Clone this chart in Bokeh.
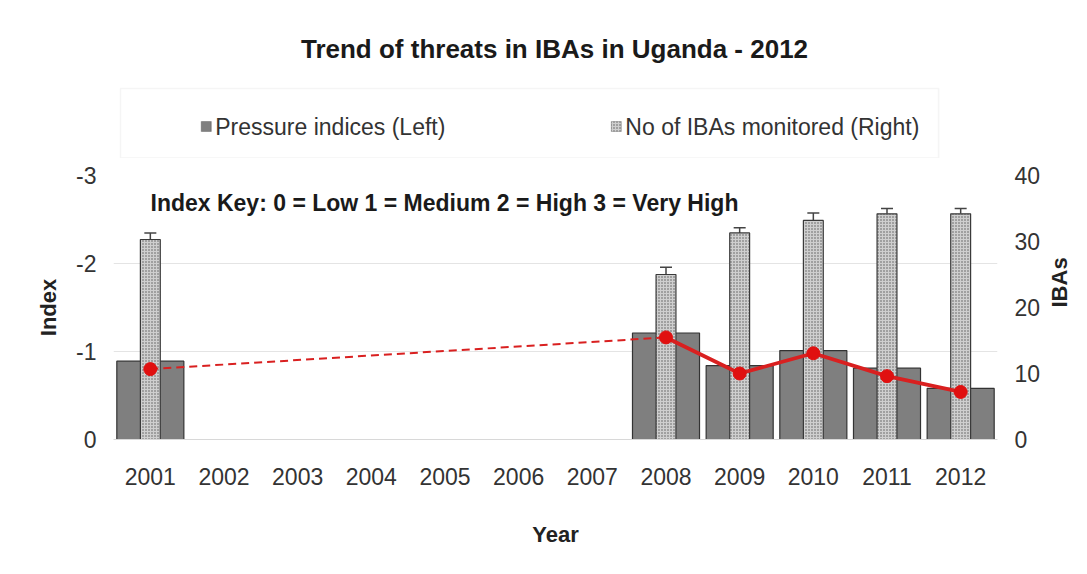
import math
from bokeh.plotting import figure
from bokeh.layouts import column
from bokeh.models import (FactorRange, Range1d, LinearAxis, FixedTicker, Whisker, TeeHead,
                          ColumnDataSource, Label, BoxAnnotation, PrintfTickFormatter)
from bokeh.embed import file_html
from bokeh.resources import INLINE

# ---- data ----
years = ["2001", "2002", "2003", "2004", "2005", "2006", "2007", "2008", "2009", "2010", "2011", "2012"]
data_years = ["2001", "2008", "2009", "2010", "2011", "2012"]
pressure = [-0.89, -1.21, -0.84, -1.01, -0.81, -0.58]
trend = [-0.80, -1.16, -0.75, -0.98, -0.72, -0.54]
ibas = [30.3, 25.0, 31.3, 33.2, 34.2, 34.2]
ibas_err = [1.0, 1.1, 0.8, 1.1, 0.8, 0.8]
left_ticks = [-3, -2, -1, 0]
right_ticks = [0, 10, 20, 30, 40]
legend_labels = ["Pressure indices (Left)", "No of IBAs monitored (Right)"]

FONT = "Liberation Sans"
PRESS_STYLE = dict(fill_color="#7f7f7f", line_color="#333333", line_width=1.2)
IBA_STYLE = dict(fill_color="#cfcfcf", line_color="#3a3a3a", line_width=1.2,
                 hatch_pattern="dot", hatch_color="#5a5a5a", hatch_scale=3, hatch_weight=1.4)

HEAD_H = 158

# ---------------- header: title + legend ----------------
head = figure(width=1087, height=HEAD_H, x_range=Range1d(113, 999), y_range=Range1d(HEAD_H, 0),
              x_axis_type=None, y_axis_type=None, output_backend="svg", toolbar_location=None,
              min_border_left=113, min_border_right=88, min_border_top=0, min_border_bottom=0)
head.grid.visible = False
head.outline_line_color = None
head.background_fill_color = "white"
head.border_fill_color = "white"

head.add_layout(Label(x=555, y=48, text="Trend of threats in IBAs in Uganda - 2012",
                      text_align="center", text_baseline="middle", text_font=FONT,
                      text_font_size="26px", text_font_style="bold", text_color="#1a1a1a"))
# legend frame
head.add_layout(BoxAnnotation(left=120, right=940, top=88, bottom=HEAD_H - 0.5,
                              fill_color="white", fill_alpha=1.0,
                              line_color="#dedede", line_width=1.5))
# legend swatches and labels
head.add_layout(BoxAnnotation(left=201, right=211, top=121, bottom=131, fill_alpha=1.0,
                              **PRESS_STYLE))
head.add_layout(BoxAnnotation(left=612, right=622, top=121, bottom=131, fill_alpha=1.0,
                              **IBA_STYLE))
for lx, lab in zip([215, 626], legend_labels):
    head.add_layout(Label(x=lx, y=126, text=lab, text_baseline="middle", text_font=FONT,
                          text_font_size="23px", text_color="#333333"))

# ---------------- main chart ----------------
p = figure(x_range=FactorRange(*years), y_range=Range1d(0, -3),
           width=1087, height=572 - HEAD_H, output_backend="svg", toolbar_location=None,
           min_border_left=113, min_border_right=88, min_border_top=175 - HEAD_H,
           min_border_bottom=133)
p.extra_y_ranges = {"ibas": Range1d(0, 40)}

src = ColumnDataSource(dict(x=data_years, pressure=pressure, trend=trend, ibas=ibas,
                            hi=[v + e for v, e in zip(ibas, ibas_err)]))

p.vbar(x="x", top="pressure", bottom=0, width=0.91, source=src, **PRESS_STYLE)
p.vbar(x="x", top="ibas", bottom=0, width=0.27, source=src, y_range_name="ibas", **IBA_STYLE)

wh = Whisker(base="x", lower="ibas", upper="hi", source=src, y_range_name="ibas",
             line_color="#444444", line_width=1.5,
             upper_head=TeeHead(size=12, line_color="#444444", line_width=1.5), lower_head=None)
p.add_layout(wh)

p.line(x=data_years[:2], y=trend[:2], line_color="#d92020", line_width=2, line_dash="8 5")
p.line(x=data_years[1:], y=trend[1:], line_color="#d92020", line_width=3.8)
p.scatter(x=data_years, y=trend, size=13, fill_color="#e01010", line_color="#e01010")

# axes
p.yaxis.ticker = FixedTicker(ticks=left_ticks)
p.yaxis.formatter = PrintfTickFormatter(format="%d")
p.yaxis.axis_label = "Index"
right = LinearAxis(y_range_name="ibas", ticker=FixedTicker(ticks=right_ticks), axis_label="IBAs")
p.add_layout(right, "right")

for ax in [p.xaxis[0], p.yaxis[0], right]:
    ax.axis_line_color = None
    ax.major_tick_line_color = None
    ax.minor_tick_line_color = None
    ax.major_label_text_font = FONT
    ax.major_label_text_font_size = "23px"
    ax.major_label_text_color = "#333333"
    ax.axis_label_text_font = FONT
    ax.axis_label_text_font_size = "22px"
    ax.axis_label_text_font_style = "bold"
    ax.axis_label_text_color = "#222222"
p.xaxis.axis_line_color = "#d8d8d8"
p.xaxis.major_label_standoff = 22
p.xaxis.axis_label = "Year"
p.xaxis.axis_label_standoff = 34
p.yaxis.major_label_standoff = 11
p.yaxis.axis_label_standoff = 12
right.major_label_standoff = 11
right.axis_label_standoff = 16
right.axis_label_orientation = math.pi / 2
right.axis_label_text_align = "center"

p.xgrid.grid_line_color = None
p.ygrid.grid_line_color = "#e4e4e4"
p.outline_line_color = None
p.background_fill_color = "white"
p.border_fill_color = "white"

p.add_layout(Label(x=37, y=237, x_units="screen", y_units="screen",
                   text="Index Key: 0 = Low 1 = Medium 2 = High 3 = Very High",
                   text_baseline="middle", text_font=FONT, text_font_size="23px",
                   text_font_style="bold", text_color="#1a1a1a"))

layout = column(head, p, spacing=0)
html = file_html(layout, INLINE)
open("out.html", "w").write(html)
